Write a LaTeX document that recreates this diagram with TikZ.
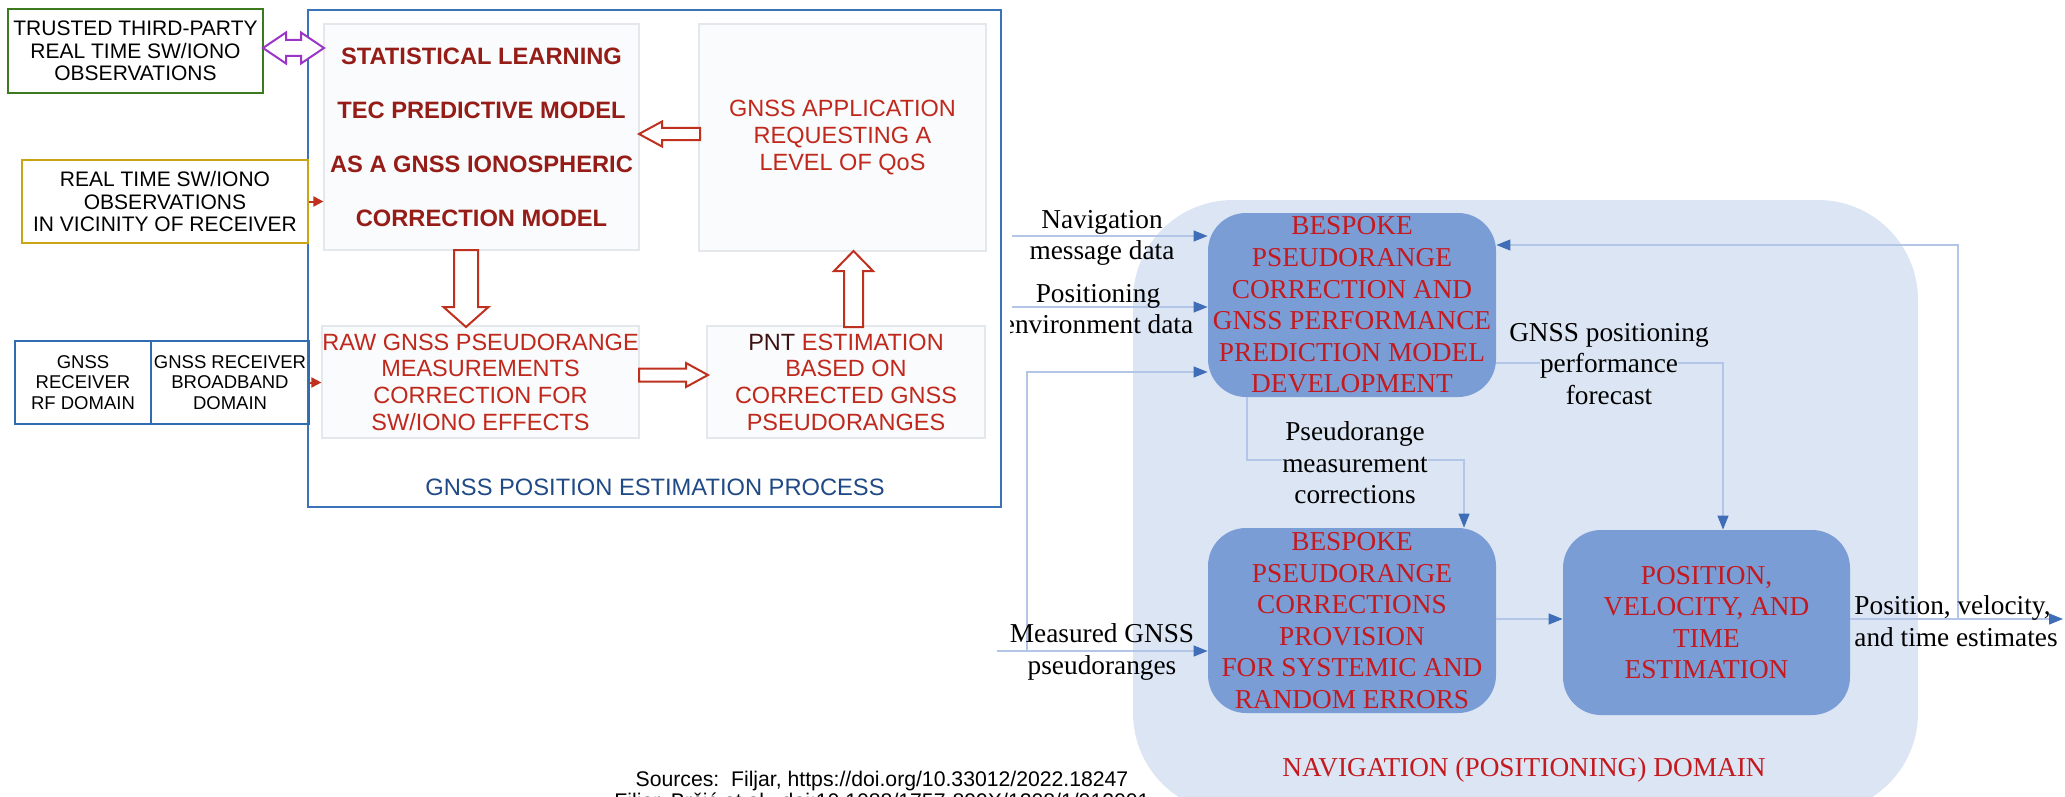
\documentclass[tikz,border=0pt]{standalone}
\usepackage{fontspec}
\setmainfont{Liberation Serif}
\newfontfamily\sansf{Liberation Sans}
\usetikzlibrary{arrows.meta,calc}
\definecolor{procblue}{HTML}{3A73B8}
\definecolor{grn}{HTML}{3B7A1F}
\definecolor{ylw}{HTML}{C9A516}
\definecolor{recvblue}{HTML}{2F6DB0}
\definecolor{purp}{HTML}{9A35C8}
\definecolor{hred}{HTML}{C0301E}
\definecolor{bred}{HTML}{961C17}
\definecolor{tred}{HTML}{C0281C}
\definecolor{pntc}{HTML}{3E1212}
\definecolor{procttl}{HTML}{1F4A85}
\definecolor{panelfill}{HTML}{F9FBFD}
\definecolor{paneldraw}{HTML}{E4E8EC}
\definecolor{regionfill}{HTML}{DCE5F3}
\definecolor{boxfill}{HTML}{7A9DD6}
\definecolor{boxred}{HTML}{C41A1F}
\definecolor{connc}{HTML}{B3C6E8}
\definecolor{tipblue}{HTML}{3F6DB8}
\begin{document}
\begin{tikzpicture}[x=0.5pt,y=-0.5pt,
  every node/.style={inner sep=0pt},
  blackbox/.style={draw, line width=1pt, align=center, font=\sansf\fontsize{10.5}{11.25}\selectfont},
  panel/.style={draw=paneldraw, fill=panelfill, line width=0.6pt, align=center},
  boldred/.style={text=bred, font=\sansf\bfseries\fontsize{11.85}{27}\selectfont},
  regred/.style={text=tred, font=\sansf\fontsize{11.75}{13.35}\selectfont},
  recv/.style={draw=recvblue, line width=1pt, align=center, font=\sansf\fontsize{9.25}{10.25}\selectfont},
  hollow/.style={draw=hred, fill=white, line width=1pt, line join=miter},
  smallred/.style={draw=hred, line width=1pt, -{Triangle[length=5pt,width=5pt]}},
  navbox/.style={fill=boxfill, rounded corners=19pt, align=center, text=boxred, font=\fontsize{13.65}{15.8}\selectfont},
  lbl/.style={align=center, font=\fontsize{13.65}{15.8}\selectfont},
  conn/.style={draw=connc, line width=0.6pt},
  arr/.style={conn, -{Triangle[length=7pt,width=5.5pt,color=tipblue]}},
]
\useasboundingbox (0,0) rectangle (2065,797);

% ---------- right: navigation domain ----------
\fill[regionfill, rounded corners=50pt] (1133,200) rectangle (1918,813);

% ---------- left: process box ----------
\node[draw=procblue, fill=white, line width=1pt, minimum width=346.5pt, minimum height=248.5pt] (proc) at (654.5,258.5) {};

\node[panel, boldred, minimum width=157.5pt, minimum height=113pt] (p1) at (481.5,137)
  {STATISTICAL LEARNING\\TEC PREDICTIVE MODEL\\AS A GNSS IONOSPHERIC\\CORRECTION MODEL};
\node[panel, regred, minimum width=143.5pt, minimum height=113.5pt] (p2) at (842.5,137.5)
  {GNSS APPLICATION\\REQUESTING A\\LEVEL OF QoS};
\node[panel, regred, minimum width=158.5pt, minimum height=56pt] (p3) at (480.5,382)
  {RAW GNSS PSEUDORANGE\\MEASUREMENTS\\CORRECTION FOR\\SW/IONO EFFECTS};
\node[panel, regred, minimum width=139pt, minimum height=56pt] (p4) at (846,382)
  {{\color{pntc}PNT} ESTIMATION\\BASED ON\\CORRECTED GNSS\\PSEUDORANGES};

\node[text=procttl, font=\sansf\fontsize{11.85}{13}\selectfont] (ptitle) at (655,487) {GNSS POSITION ESTIMATION PROCESS};

% outer input boxes
\node[blackbox, draw=grn, fill=white, minimum width=127.5pt, minimum height=42pt] (tp) at (135.5,51)
  {TRUSTED THIRD-PARTY\\REAL TIME SW/IONO\\OBSERVATIONS};
\node[blackbox, draw=ylw, fill=white, minimum width=143pt, minimum height=41.5pt] (vic) at (165,201.5)
  {REAL TIME SW/IONO\\OBSERVATIONS\\IN VICINITY OF RECEIVER};
\node[recv, minimum width=68pt, minimum height=41.5pt] (rf) at (83,382.5) {GNSS\\RECEIVER\\RF DOMAIN};
\node[recv, minimum width=79pt, minimum height=41.5pt] (bb) at (230,382.5) {GNSS RECEIVER\\BROADBAND\\DOMAIN};

\draw[smallred] (vic.east) -- (vic.east -| p1.west);
\draw[smallred] (bb.east) -- (bb.east -| p3.west);

% hollow block arrows
\draw[draw=purp, fill=white, line width=1pt, line join=miter]
  (263,48) -- (286,32.5) -- (286,40) -- (301,40) -- (301,32.5) -- (324,48)
  -- (301,63.5) -- (301,56) -- (286,56) -- (286,63.5) -- cycle;
\draw[hollow] (639,134) -- (662,121.5) -- (662,128) -- (700,128) -- (700,140) -- (662,140) -- (662,146.5) -- cycle;
\draw[hollow] (454,250) -- (478,250) -- (478,307) -- (488.5,307) -- (466,327) -- (443.5,307) -- (454,307) -- cycle;
\draw[hollow] (844,327) -- (863,327) -- (863,271) -- (873,271) -- (853.5,251) -- (834,271) -- (844,271) -- cycle;
\draw[hollow] (639,368.5) -- (686,368.5) -- (686,363) -- (708,375) -- (686,387) -- (686,381.5) -- (639,381.5) -- cycle;

% ---------- right: boxes ----------
\node[navbox, minimum width=144pt, minimum height=92pt] (A) at (1352,305)
  {BESPOKE\\PSEUDORANGE\\CORRECTION AND\\GNSS PERFORMANCE\\PREDICTION MODEL\\DEVELOPMENT};
\node[navbox, minimum width=144pt, minimum height=92.5pt] (B) at (1352,620.5)
  {BESPOKE\\PSEUDORANGE\\CORRECTIONS\\PROVISION\\FOR SYSTEMIC AND\\RANDOM ERRORS};
\node[navbox, minimum width=143.5pt, minimum height=92.5pt] (C) at (1706.5,622.5)
  {POSITION,\\VELOCITY, AND\\TIME\\ESTIMATION};
\node[text=boxred, font=\fontsize{13.65}{15.8}\selectfont] (dom) at (1524,770) {NAVIGATION (POSITIONING) DOMAIN};

% connectors
\coordinate (navin) at (1012,236);
\coordinate (posin) at (1012,307);
\coordinate (measin) at (997,651);
\coordinate (branch) at (1027,651);
\coordinate (br2) at (1027,372);
\coordinate (ab1) at (1247,460);
\coordinate (ab2) at (1464,460);
\coordinate (ac1) at (1723,363);
\coordinate (bc) at (1530,619);
\coordinate (out) at (2063,619);
\coordinate (fb1) at (1958,619);
\coordinate (fb2) at (1958,245);

\draw[arr] (navin) -- (navin -| A.west);
\draw[arr] (posin) -- (posin -| A.west);
\draw[arr] (measin) -- (measin -| B.west);
\draw[arr] (branch) -- (br2) -- (br2 -| A.west);
\draw[arr] (ab1 |- A.south) -- (ab1) -- (ab2) -- (ab2 |- B.north);
\draw[arr] (ac1 -| A.east) -- (ac1) -- (ac1 |- C.north);
\draw[arr] (bc -| B.east) -- (bc -| C.west);
\draw[arr] (fb1 -| C.east) -- (out);
\draw[arr] (fb1) -- (fb2) -- (fb2 -| A.east);

% labels
\node[lbl] (navlbl) at (1102,238) {Navigation\\message data};
\begin{scope}
  \clip (1010,270) rectangle (1300,345);
  \node[lbl] (poslbl) at (1098,309) {Positioning\\environment data};
\end{scope}
\node[lbl] (measlbl) at (1102,652) {Measured GNSS\\pseudoranges};
\node[lbl] (corrlbl) at (1355,463) {Pseudorange\\{\fboxsep=0pt\colorbox{regionfill}{measurement}}\\corrections};
\node[lbl] (perflbl) at (1609,364) {GNSS positioning\\{\fboxsep=0pt\colorbox{regionfill}{performance}}\\forecast};
\node[lbl, align=left, anchor=west] (outlbl) at (1854,621) {Position, velocity,\\and time estimates};

% sources (second line cut by the lower edge, as in the reference)
\node[anchor=north, align=center, font=\sansf\fontsize{10.6}{10.75}\selectfont] (src) at (882,771)
  {Sources:\ \ Filjar, https://doi.org/10.33012/2022.18247\\Filjar, Brčić et al., doi:10.1088/1757-899X/1208/1/012001};
\end{tikzpicture}
\end{document}
